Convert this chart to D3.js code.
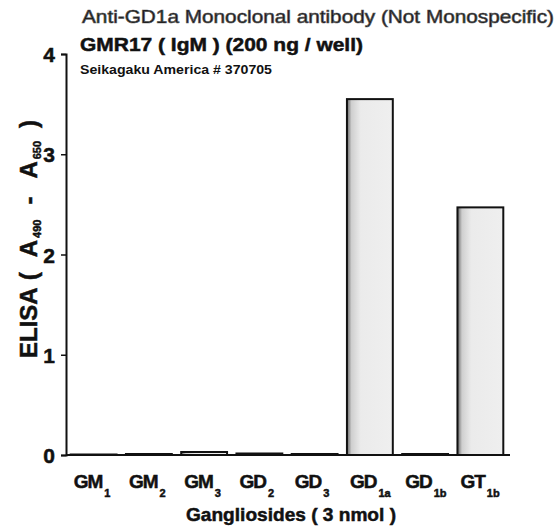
<!doctype html>
<html lang="en">
<head>
<meta charset="utf-8">
<title>GMR17 ELISA</title>
<style>
html, body {
	margin: 0;
	padding: 0;
	background: #fff;
	overflow: hidden;
	font-family: 'Liberation Sans', Arial, sans-serif;
}
svg text {
	font-weight: bold;
	fill: #111;
}
svg text.heavy {
	stroke: #111;
	stroke-width: 0.5px;
}
</style>
</head>
<body>
<div id="container"></div>
<script src="https://cdnjs.cloudflare.com/ajax/libs/d3/7.8.5/d3.min.js"></script>
<script>
// data
var names = ['GM', 'GM', 'GM', 'GD', 'GD', 'GD', 'GD', 'GT'];
var subs = ['1', '2', '3', '2', '3', '1a', '1b', '1b'];
var values = [0.005, 0.01, 0.03, 0.015, 0.01, 3.55, 0.01, 2.47];
var yTicks = [0, 1, 2, 3, 4];

(function () {
	'use strict';

	var W = 559, H = 531;
	var x0 = 66, x1 = 508, yBase = 455, yTop = 54;

	var svg = d3.select('#container').append('svg')
		.attr('width', W).attr('height', H);

	var defs = svg.append('defs');
	var grad = defs.append('linearGradient').attr('id', 'stip')
		.attr('x1', '0').attr('x2', '1').attr('y1', '0').attr('y2', '0');
	grad.append('stop').attr('offset', '0').attr('stop-color', '#666');
	grad.append('stop').attr('offset', '0.1').attr('stop-color', '#cfcfcf');
	grad.append('stop').attr('offset', '0.3').attr('stop-color', '#ebebeb');
	grad.append('stop').attr('offset', '1').attr('stop-color', '#efefef');

	var keys = d3.range(values.length);
	var x = d3.scaleBand().domain(keys).range([x0, x1]).paddingInner(0.17).paddingOuter(0.085);
	var y = d3.scaleLinear().domain([0, 4]).range([yBase, yTop]);

	// bars
	svg.append('g').selectAll('rect').data(values).enter()
		.append('rect')
		.attr('x', function (d, i) { return x(i); })
		.attr('y', function (d) { return y(d); })
		.attr('width', x.bandwidth())
		.attr('height', function (d) { return yBase - y(d); })
		.attr('fill', 'url(#stip)')
		.attr('stroke', '#111')
		.attr('stroke-width', 2);

	// y axis
	var yAxis = svg.append('g').attr('transform', 'translate(' + x0 + ',0)')
		.call(d3.axisLeft(y).tickValues(yTicks).tickSize(5).tickPadding(6).tickFormat(d3.format('d')));
	yAxis.select('.domain').attr('stroke', '#111').attr('stroke-width', 2);
	yAxis.selectAll('.tick line').attr('stroke', '#111').attr('stroke-width', 1.5);
	yAxis.selectAll('.tick text')
		.attr('class', 'heavy')
		.style('font-family', "'Liberation Sans', Arial, sans-serif")
		.style('font-size', '21px').style('font-weight', 'bold').attr('fill', '#111')
		.attr('dy', '0.36em');

	// baseline
	svg.append('line').attr('x1', x0).attr('x2', x1 + 2)
		.attr('y1', yBase).attr('y2', yBase)
		.attr('stroke', '#111').attr('stroke-width', 2);

	// x labels with subscripts
	var xl = svg.append('g').selectAll('text').data(keys).enter()
		.append('text')
		.attr('class', 'heavy')
		.attr('x', function (i) { return x(i) + x.bandwidth() / 2 - 20; })
		.attr('y', 488)
		.style('font-size', '19px')
		.style('letter-spacing', '-1px');
	xl.append('tspan').text(function (i) { return names[i]; });
	xl.append('tspan').attr('dy', 9).attr('dx', 2).style('font-size', '11px')
		.style('letter-spacing', '0px')
		.text(function (i) { return subs[i]; });

	svg.append('text').attr('class', 'heavy')
		.attr('x', 186).attr('y', 521)
		.attr('textLength', 210).attr('lengthAdjust', 'spacingAndGlyphs')
		.style('font-size', '19px')
		.text('Gangliosides ( 3 nmol )');

	// y title, rotated; subscripts fall toward the axis
	var yt = svg.append('text').attr('class', 'heavy')
		.attr('transform', 'translate(37,358) rotate(-90)')
		.style('font-size', '24px');
	yt.append('tspan').text('ELISA');
	yt.append('tspan').attr('dx', 7).text('(');
	yt.append('tspan').attr('dx', 15).text('A');
	yt.append('tspan').attr('dx', 2).attr('dy', 4).style('font-size', '11px').text('490');
	yt.append('tspan').attr('dx', 15).attr('dy', -4).text('-');
	yt.append('tspan').attr('dx', 18).text('A');
	yt.append('tspan').attr('dx', 2).attr('dy', 4).style('font-size', '11px').text('650');
	yt.append('tspan').attr('dx', 13).attr('dy', -4).text(')');

	// titles
	svg.append('text').attr('x', 82).attr('y', 23)
		.attr('textLength', 472).attr('lengthAdjust', 'spacingAndGlyphs')
		.style('font-size', '19px').style('font-weight', 'normal')
		.attr('fill', '#d8d8d8').attr('stroke', '#555').attr('stroke-width', 0.7)
		.text('Anti-GD1a Monoclonal antibody (Not Monospecific)');
	svg.append('text').attr('class', 'heavy')
		.attr('x', 80).attr('y', 51)
		.attr('textLength', 283).attr('lengthAdjust', 'spacingAndGlyphs')
		.style('font-size', '19px')
		.text('GMR17 ( IgM ) (200 ng / well)');
	svg.append('text').attr('x', 80).attr('y', 74)
		.attr('textLength', 192).attr('lengthAdjust', 'spacingAndGlyphs')
		.style('font-size', '12px')
		.text('Seikagaku America # 370705');
})();
</script>
</body>
</html>
